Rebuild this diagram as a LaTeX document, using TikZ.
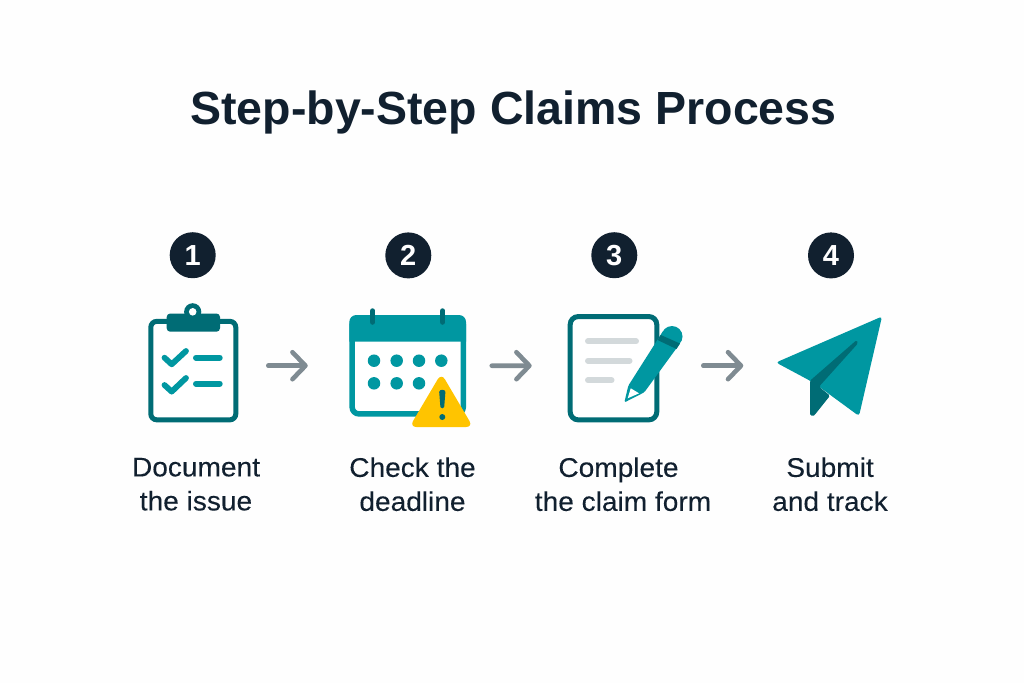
\documentclass[tikz,border=0pt]{standalone}
\usepackage{fontspec}
\setmainfont{Liberation Sans}
\newfontfamily\labelfont[FakeStretch=1.04,FakeBold=0.12]{Liberation Sans}
\usetikzlibrary{arrows.meta,calc}
\definecolor{ink}{HTML}{11202F}
\definecolor{tealdark}{HTML}{006C75}
\definecolor{tealmain}{HTML}{0097A1}
\definecolor{arrowgrey}{HTML}{7F8B92}
\definecolor{linegrey}{HTML}{D3D9DB}
\definecolor{warnyellow}{HTML}{FFC400}
\definecolor{bgpaper}{HTML}{FEFEFE}
\tikzset{
  badge/.style={circle,fill=ink,text=white,minimum size=46pt,inner sep=0pt,font=\fontsize{29}{29}\selectfont\bfseries},
  steplabel/.style={text=ink,align=center,inner sep=0pt,font=\labelfont\fontsize{27}{34}\selectfont},
  titletext/.style={text=ink,inner sep=0pt,anchor=base,font=\fontsize{46.5}{46.5}\selectfont\bfseries},
  framebox/.style={draw=tealdark,line width=5pt,fill=white,rounded corners=6pt,inner sep=0pt},
  flow/.style={draw=arrowgrey,line width=4.6pt,line cap=round,-{Straight Barb[length=13pt,width=27pt,round]}},
  tick/.style={draw=tealmain,line width=5.8pt,line cap=round,line join=round},
  dash line/.style={draw=tealmain,line width=6pt,line cap=round},
  grey line/.style={draw=linegrey,line width=6pt,line cap=round},
  dot/.style={circle,fill=tealmain,minimum size=12.5pt,inner sep=0pt},
  ringpeg/.style={draw=tealdark,line width=5.5pt,line cap=round}
}
\begin{document}
\begin{tikzpicture}[x=1pt,y=-1pt]
\useasboundingbox (0,0) rectangle (1024,683);
\fill[bgpaper] (0,0) rectangle (1024,683);
\node[titletext] (title) at (513.5,124) {Step-by-Step Claims Process};

% badges
\node[badge] (b1) at (192.7,255.2) {1};
\node[badge] (b2) at (408.3,255.4) {2};
\node[badge] (b3) at (614.3,255.2) {3};
\node[badge] (b4) at (831,255.4) {4};

% clipboard
\node[framebox,minimum width=85pt,minimum height=98.5pt] (icon1) at (193.3,370.6) {};
\fill[tealdark,rounded corners=3.5pt] (166.7,313.5) rectangle (220,331.7);
\fill[tealdark] (192.7,311.8) circle (8.6);
\fill[white] (192.7,311.8) circle (3.8);
\draw[tick] (164.5,357.7) -- (171.7,364.3) -- (186,351);
\draw[tick] (164.5,385) -- (171.7,391.6) -- (186,378);
\draw[dash line] (196,357.7) -- (219.7,357.7);
\draw[dash line] (196,383.7) -- (219.7,383.7);

% calendar
\node[framebox,draw=tealmain,line width=5.5pt,rounded corners=7pt,minimum width=111.2pt,minimum height=96.2pt] (icon2) at (407.7,365.85) {};
\fill[tealmain] (349.3,341.7) {[rounded corners=7pt] -- (349.3,315) -- (466,315)} -- (466,341.7) -- cycle;
\draw[ringpeg] (372.7,311) -- (372.7,322);
\draw[ringpeg] (442.7,311) -- (442.7,322);
\foreach \nx/\dx/\dy in {d1/374/360.7,d2/396.7/360.7,d3/419/360.7,d4/441.3/360.7,d5/374/383.3,d6/396.7/383.3,d7/419/383.3}
  \node[dot] (\nx) at (\dx,\dy) {};
\fill[warnyellow,rounded corners=7pt] (441.3,373.2) -- (473,427) -- (409.5,427) -- cycle;
\fill[tealdark] (439.2,392) .. controls (439.2,389) and (445.4,389) .. (445.4,392) -- (444.2,407) .. controls (444,408.8) and (440.6,408.8) .. (440.4,407) -- cycle;
\fill[tealdark] (442.3,417) circle (3);

% form
\node[framebox,rounded corners=8pt,minimum width=86.6pt,minimum height=103.3pt] (icon3) at (613.5,368.2) {};
\draw[grey line] (588,341.3) -- (636,341.3);
\draw[grey line] (588,360.7) -- (629.5,360.7);
\draw[grey line] (588,380.3) -- (611.5,380.3);
\fill[tealmain,rounded corners=1.5pt] (624.3,402.5) -- (628.3,385.7) -- (663.5,330.3) -- (680.5,342.7) -- (644.3,392.3) -- cycle;
\fill[tealmain] (672,336.5) circle (10.5);
\fill[tealdark] (657.5,340) -- (660.8,335) -- (680,343.5) -- (676.5,349) -- cycle;
\fill[white] (627.7,398.3) -- (630.7,388.3) -- (639,393.3) -- cycle;

% paper plane
\coordinate (icon4) at (777.7,366);
\fill[tealmain,rounded corners=3pt] (882,316.5) -- (776,362.5) -- (810,380.7) -- (819,386.7) -- (859,416) -- cycle;
\fill[tealdark,rounded corners=1.5pt] (810,380.7) -- (856.7,340) -- (858,343.3) -- (819,386.7) -- (830,395.7) -- (815,414.5) .. controls (813,416.5) and (810,415.5) .. (810,412.5) -- cycle;

% connectors
\draw[flow] ([shift={(30,-4.9)}]icon1.east) -- ([shift={(-41.6,-0.15)}]icon2.west);
\draw[flow] ([shift={(25.7,-0.15)}]icon2.east) -- ([shift={(-36,-2.5)}]icon3.west);
\draw[flow] ([shift={(44,-2.5)}]icon3.east) -- ($(icon4)+(-34.4,-0.3)$);

% labels
\node[steplabel] (l1) at (196,484.2) {Document\\the issue};
\node[steplabel] (l2) at (412.5,484.2) {Check the\\deadline};
\node[steplabel] (l3) at (623,484.2) {\hspace*{-9pt}Complete\\the claim form};
\node[steplabel] (l4) at (830,484.2) {Submit\\and track};
\end{tikzpicture}
\end{document}
